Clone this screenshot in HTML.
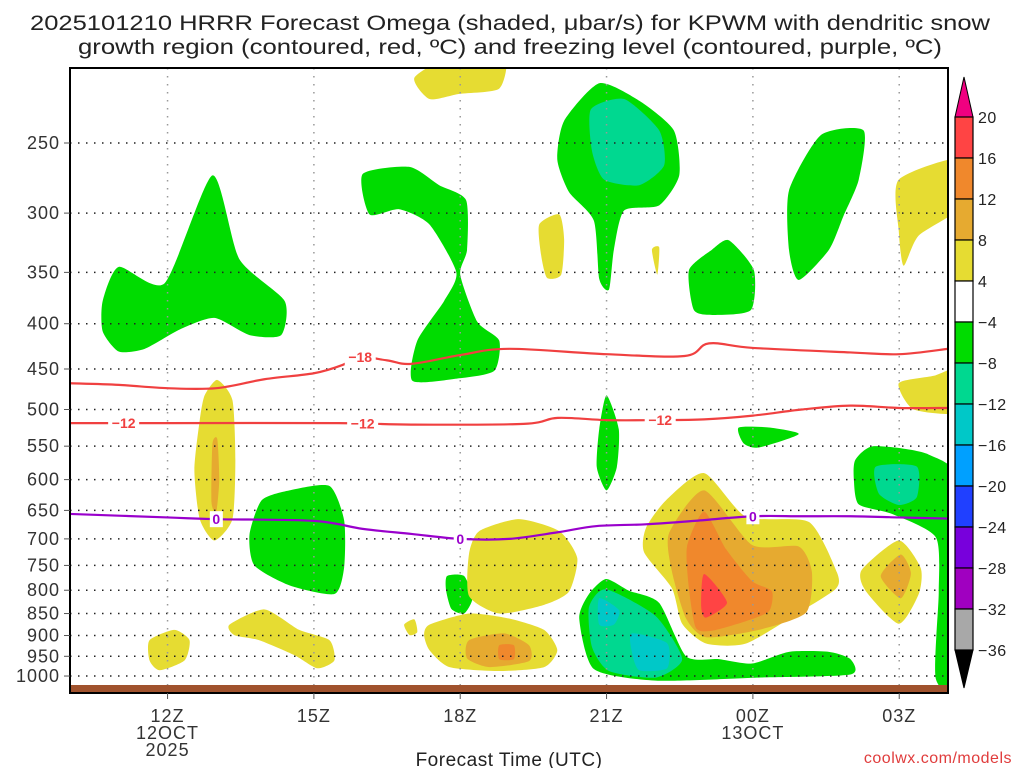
<!DOCTYPE html>
<html><head><meta charset="utf-8"><style>
body{margin:0;background:#fff;width:1024px;height:768px;overflow:hidden}
svg text{font-family:"Liberation Sans",sans-serif}
</style></head><body>
<svg id="chart" width="1024" height="768" viewBox="0 0 1024 768">
<text x="30" y="30" textLength="960" lengthAdjust="spacingAndGlyphs" font-size="21" fill="#222">2025101210 HRRR Forecast Omega (shaded, μbar/s) for KPWM with dendritic snow</text>
<text x="78" y="54" textLength="864" lengthAdjust="spacingAndGlyphs" font-size="21" fill="#222">growth region (contoured, red, ºC) and freezing level (contoured, purple, ºC)</text>
<defs><clipPath id="pc"><rect x="70" y="68" width="878" height="625"/></clipPath></defs>
<g id="fills" clip-path="url(#pc)"></g>
<g id="grid"></g>
<g id="lines" clip-path="url(#pc)"></g>
<rect x="70" y="685" width="878" height="8" fill="#A0522D"/>
<rect x="70" y="68" width="878" height="625" fill="none" stroke="#000" stroke-width="2"/>
<g id="axes"></g>
<g id="cbar"></g>
<text x="509" y="766" text-anchor="middle" font-size="19" fill="#222" letter-spacing="0.5">Forecast Time (UTC)</text>
<text x="1012" y="763" text-anchor="end" font-size="16" fill="#e03c3c" letter-spacing="0.5">coolwx.com/models</text>
</svg>
<script>
const NS="http://www.w3.org/2000/svg";
// Axis data
const xTickHours=[12,15,18,21,24,27];
const xTickLabels=["12Z","15Z","18Z","21Z","00Z","03Z"];
const yTicks=[250,300,350,400,450,500,550,600,650,700,750,800,850,900,950,1000];
const cbLevels=["20","16","12","8","4","−4","−8","−12","−16","−20","−24","−28","−32","−36"];
const cbColors=["#FF4444","#F0882C","#E6AA30","#E6DC32","#FFFFFF","#00DC00","#00D890","#00C8C8","#00A0FF","#2040FF","#7800DC","#A000C0","#A8A8A8"];
// Omega shaded regions: [hour, hPa]
const green1=[[10.67,377],[11.0,345],[11.94,360],[12.92,272],[13.47,338],[14.4,377],[14.33,412],[13.68,412],[12.96,394],[12.25,406],[11.53,427],[11.0,430],[10.67,408]];
const green2=[[16.0,271],[16.96,266],[17.57,279],[18.12,290],[18.14,330],[18.0,352],[18.35,398],[18.8,418],[18.7,452],[17.98,461],[17.02,464],[17.12,418],[17.67,377],[17.92,350],[17.37,309],[16.75,297],[16.14,301]];
const green3=[[20.13,236],[20.85,214],[21.67,224],[22.38,242],[22.49,272],[22.08,294],[21.36,298],[21.15,330],[21.05,366],[20.85,356],[20.74,306],[20.23,284],[19.99,261]];
const teal3=[[20.68,229],[21.36,223],[22.08,242],[22.18,265],[21.67,279],[20.95,275],[20.7,255]];
const green4=[[24.74,283],[25.39,245],[26.27,242],[26.17,275],[25.86,302],[25.56,330],[24.94,357],[24.74,330]];
const green5=[[22.69,348],[23.16,330],[23.51,322],[24.02,348],[23.96,386],[23.2,391],[22.79,386]];
const green6=[[20.85,526],[21.0,482],[21.25,526],[21.21,581],[21.0,617],[20.8,581]];
const green7=[[23.71,524],[24.33,524],[24.94,533],[24.12,552],[23.81,546]];
const green8=[[13.93,633],[14.5,617],[15.32,610],[15.62,667],[15.62,754],[15.42,808],[14.5,790],[13.78,750],[13.68,692]];
const green9=[[17.73,771],[18.08,771],[18.25,817],[18.08,850],[17.82,840],[17.71,800]];
const green10=[[20.64,808],[20.99,777],[21.46,801],[22.08,827],[22.63,950],[23.3,957],[23.98,968],[24.74,939],[25.56,939],[26.0,957],[26.0,996],[24.12,1004],[22.01,1012],[20.74,982],[20.44,861]];
const teal10=[[20.64,836],[20.99,798],[22.01,856],[22.55,957],[22.01,1004],[21.05,987],[20.7,927]];
const cyan10a=[[20.85,817],[21.26,843],[21.15,875],[20.85,875]];
const cyan10b=[[21.52,895],[22.24,918],[22.24,980],[21.67,985],[21.52,940]];
const green11=[[26.1,570],[26.48,550],[27.6,562],[28.3,616],[28.3,1040],[27.75,1007],[27.81,804],[27.75,697],[26.85,656],[26.17,640],[26.07,600]];
const teal11=[[26.52,580],[27.36,580],[27.36,628],[26.99,641],[26.58,622]];
const yel1=[[17.06,211],[17.78,200],[18.9,200],[18.8,217],[17.98,220],[17.37,223]];
const yel2=[[19.62,309],[20.03,301],[20.13,321],[20.07,352],[19.78,355],[19.66,335]];
const yel3=[[21.93,330],[22.08,328],[22.04,352]];
const yel4=[[26.99,275],[28.3,260],[28.3,294],[27.4,318],[27.09,344],[26.99,314]];
const yel5=[[26.99,467],[27.71,458],[28.3,448],[28.3,503],[27.3,500]];
const yel6=[[12.76,482],[13.02,463],[13.33,488],[13.39,570],[13.33,665],[12.96,703],[12.66,665],[12.55,585],[12.66,514]];
const org6=[[12.92,547],[13.02,540],[13.06,600],[13.0,652],[12.9,636]];
const yel7=[[11.63,911],[12.14,887],[12.45,911],[12.35,960],[11.84,985],[11.63,960]];
const yel8=[[13.27,875],[13.99,841],[14.7,887],[15.32,911],[15.42,960],[15.07,980],[14.6,947],[13.88,911],[13.37,899]];
const yel9=[[16.85,875],[17.06,863],[17.12,892],[16.96,899]];
const yel10=[[17.37,875],[18.18,850],[19.0,861],[19.72,887],[19.99,935],[19.72,977],[18.8,987],[17.78,977],[17.37,935],[17.26,899]];
const org10=[[18.18,911],[18.9,895],[19.41,923],[19.41,962],[18.6,977],[18.14,955]];
const org10b=[[18.8,923],[19.1,923],[19.1,957],[18.8,957]];
const yel11=[[18.39,686],[19.2,665],[20.03,686],[20.4,736],[20.23,803],[19.72,831],[18.8,850],[18.18,812],[18.18,728]];
const yel12=[[23.0,590],[23.86,661],[25.15,670],[25.72,763],[25.7,797],[24.94,848],[23.86,919],[23.04,919],[22.55,873],[22.34,796],[21.77,725],[21.81,680],[22.22,633]];
const org12=[[23.0,617],[23.98,711],[24.94,714],[25.21,763],[25.09,848],[24.12,887],[23.04,904],[22.63,861],[22.34,762],[22.28,690]];
const dorg12=[[23.0,652],[23.45,719],[23.98,781],[24.39,802],[24.33,845],[23.86,867],[23.16,889],[22.83,882],[22.69,797],[22.65,714]];
const red12=[[23.0,767],[23.47,826],[23.04,859],[22.94,835]];
const yel13=[[26.99,703],[27.44,755],[27.4,808],[26.99,873],[26.31,801],[26.23,759]];
const org13=[[27.03,729],[27.24,766],[27.03,817],[26.62,771]];
// Temperature contours: [hour, hPa]
const isoM18=[[10,467],[11,469],[12,473],[13,473],[14,462],[15,455],[15.6,445],[15.9,436],[16.5,440],[17,444],[18,434],[19,427],[21,433],[22.6,435],[23.1,421],[24,426],[26,431],[27,433],[28,427]];
const isoM12=[[10,518],[12,518],[15.5,518],[17,520],[19.3,519],[20,511],[21,514],[22,514],[23,513],[24,508],[25,500],[26,495],[27,498],[28,498]];
const iso0=[[10,656],[12,662],[13,665],[15,668],[16,682],[17,691],[18,700],[19,700],[20,688],[20.8,677],[21.8,674],[22.8,668],[24,660],[25,660],[26,660],[27,662],[28,664]];
const labelsM18=[[15.95,"−18"]];
const labelsM12=[[11.1,"−12"],[16.0,"−12"],[22.1,"−12"]];
const labels0=[[13.0,"0"],[18.0,"0"],[24.0,"0"]];

const X0=70,X1=948,H0=10,H1=28;
function xs(h){return X0+(h-H0)*(X1-X0)/(H1-H0);}
function ys(p){return 143+384.5*Math.log(p/250);}
function el(tag,attrs,parent){const e=document.createElementNS(NS,tag);for(const k in attrs)e.setAttribute(k,attrs[k]);parent.appendChild(e);return e;}
const K=9;
function smoothClosed(pts){
  const P=pts.map(d=>[xs(d[0]),ys(d[1])]);const n=P.length;let d=`M${P[0][0]},${P[0][1]}`;
  for(let i=0;i<n;i++){const p0=P[(i-1+n)%n],p1=P[i],p2=P[(i+1)%n],p3=P[(i+2)%n];
    d+=`C${p1[0]+(p2[0]-p0[0])/K},${p1[1]+(p2[1]-p0[1])/K} ${p2[0]-(p3[0]-p1[0])/K},${p2[1]-(p3[1]-p1[1])/K} ${p2[0]},${p2[1]}`;}
  return d+"Z";}
function smoothOpen(pts){
  const P=pts.map(d=>[xs(d[0]),ys(d[1])]);const n=P.length;let d=`M${P[0][0]},${P[0][1]}`;
  for(let i=0;i<n-1;i++){const p0=P[Math.max(i-1,0)],p1=P[i],p2=P[i+1],p3=P[Math.min(i+2,n-1)];
    d+=`C${p1[0]+(p2[0]-p0[0])/6},${p1[1]+(p2[1]-p0[1])/6} ${p2[0]-(p3[0]-p1[0])/6},${p2[1]-(p3[1]-p1[1])/6} ${p2[0]},${p2[1]}`;}
  return d;}
function interp(arr,h){for(let i=0;i<arr.length-1;i++){if(h>=arr[i][0]&&h<=arr[i+1][0]){const t=(h-arr[i][0])/(arr[i+1][0]-arr[i][0]);return Math.exp(Math.log(arr[i][1])*(1-t)+Math.log(arr[i+1][1])*t);}}return arr[arr.length-1][1];}

const G="#00DC00",T="#00D890",C="#00C8C8",Y="#E6DC32",O="#E6AA30",D="#F0882C",R="#FF4444";
const regions=[[green1,G],[green2,G],[green3,G],[teal3,T],[green4,G],[green5,G],[green6,G],[green7,G],[green8,G],[green9,G],[green10,G],[teal10,T],[cyan10a,C],[cyan10b,C],[green11,G],[teal11,T],
 [yel1,Y],[yel2,Y],[yel3,Y],[yel4,Y],[yel5,Y],[yel6,Y],[org6,O],[yel7,Y],[yel8,Y],[yel9,Y],[yel10,Y],[org10,O],[org10b,D],[yel11,Y],[yel12,Y],[org12,O],[dorg12,D],[red12,R],[yel13,Y],[org13,O]];
const fills=document.getElementById("fills");
regions.forEach((r,i)=>{const p=el("path",{d:smoothClosed(r[0]),fill:r[1]},fills);
  
  });

const grid=document.getElementById("grid");
yTicks.forEach(p=>{const l=el("line",{x1:X0,x2:X1,y1:ys(p),y2:ys(p),stroke:"#222","stroke-width":1.5,"stroke-dasharray":"1.5 6.5"},grid);
  
  });
xTickHours.forEach(h=>{const l=el("line",{x1:xs(h),x2:xs(h),y1:68,y2:685,stroke:"#999","stroke-width":1.5,"stroke-dasharray":"1.5 6.5"},grid);
  
  });

const lines=document.getElementById("lines");
function contour(arr,color,labs,name){
  const p=el("path",{d:smoothOpen(arr),fill:"none",stroke:color,"stroke-width":2.2},lines);
  
  
  labs.forEach(lb=>{const x=xs(lb[0]),y=ys(interp(arr,lb[0]));const w=lb[1].length*9+4;
    const r=el("rect",{x:x-w/2,y:y-8,width:w,height:16,fill:"#fff"},lines);
    
    
    const t=el("text",{x:x,y:y+5,"text-anchor":"middle","font-size":14,"font-weight":"bold",fill:color},lines);t.textContent=lb[1];
    
    });}
contour(isoM18,"#F04040",labelsM18,"isotherm-minus-18");
contour(isoM12,"#F04040",labelsM12,"isotherm-minus-12");
contour(iso0,"#9900CC",labels0,"freezing-level-0");

const axes=document.getElementById("axes");
yTicks.forEach(p=>{const t=el("text",{x:60,y:ys(p)+6,"text-anchor":"end","font-size":18,"letter-spacing":1,fill:"#333"},axes);t.textContent=p;
  
  
  const tk=el("line",{x1:64,x2:70,y1:ys(p),y2:ys(p),stroke:"#555"},axes);
  
  });
xTickHours.forEach((h,i)=>{const x=xs(h);
  const tk=el("line",{x1:x,x2:x,y1:693,y2:699,stroke:"#555"},axes);
  
  
  const t=el("text",{x:x,y:722,"text-anchor":"middle","font-size":18,"letter-spacing":1,fill:"#333"},axes);t.textContent=xTickLabels[i];
  
  });
[[12,"12OCT",739],[12,"2025",756],[24,"13OCT",739]].forEach(a=>{const t=el("text",{x:xs(a[0]),y:a[2],"text-anchor":"middle","font-size":18,"letter-spacing":1,fill:"#333"},axes);t.textContent=a[1];
  
  });

const cb=document.getElementById("cbar");
const cx=955,cw=18,cy0=117,cstep=41;
const tri=el("polygon",{points:`${cx},${cy0} ${cx+cw},${cy0} ${cx+cw/2},${cy0-40}`,fill:"#F00080",stroke:"#000"},cb);


cbColors.forEach((c,i)=>{const r=el("rect",{x:cx,y:cy0+i*cstep,width:cw,height:cstep,fill:c,stroke:"#000","stroke-width":1.2},cb);
  
  });
const yb=cy0+cbColors.length*cstep;
const tri2=el("polygon",{points:`${cx},${yb} ${cx+cw},${yb} ${cx+cw/2},${yb+38}`,fill:"#000",stroke:"#000"},cb);


cbLevels.forEach((s,i)=>{const t=el("text",{x:978,y:cy0+i*cstep+6,"font-size":16,"letter-spacing":0.5,fill:"#222"},cb);t.textContent=s;
  
  });
</script>
</body></html>
